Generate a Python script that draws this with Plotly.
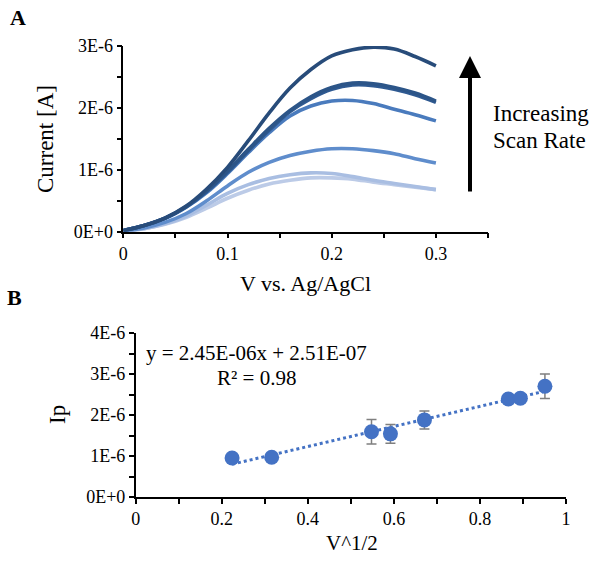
import plotly.graph_objects as go

# ---------- Panel A data (cyclic voltammetry curves, current in µA) ----------
v_pot = [0.00, 0.02, 0.04, 0.06, 0.08, 0.10, 0.12, 0.14, 0.16, 0.18, 0.20, 0.22, 0.24, 0.26, 0.28, 0.30]
cur_1 = [0.02, 0.10, 0.22, 0.41, 0.69, 1.04, 1.47, 1.92, 2.32, 2.62, 2.84, 2.94, 2.98, 2.95, 2.83, 2.68]
cur_2 = [0.02, 0.10, 0.22, 0.40, 0.66, 0.98, 1.33, 1.67, 1.96, 2.18, 2.33, 2.40, 2.39, 2.33, 2.24, 2.11]
cur_3 = [0.02, 0.10, 0.22, 0.40, 0.65, 0.96, 1.31, 1.64, 1.94, 2.15, 2.30, 2.37, 2.36, 2.30, 2.21, 2.09]
cur_4 = [0.02, 0.10, 0.21, 0.39, 0.63, 0.94, 1.28, 1.60, 1.87, 2.03, 2.11, 2.12, 2.07, 1.98, 1.89, 1.79]
cur_5 = [0.01, 0.06, 0.15, 0.29, 0.50, 0.74, 0.96, 1.12, 1.23, 1.30, 1.34, 1.34, 1.31, 1.26, 1.18, 1.11]
cur_6 = [0.01, 0.05, 0.13, 0.25, 0.43, 0.62, 0.76, 0.86, 0.92, 0.95, 0.94, 0.89, 0.83, 0.78, 0.73, 0.68]
cur_7 = [0.01, 0.05, 0.12, 0.23, 0.38, 0.54, 0.67, 0.77, 0.83, 0.87, 0.87, 0.85, 0.80, 0.76, 0.72, 0.68]
curves = [cur_7, cur_6, cur_5, cur_4, cur_3, cur_2, cur_1]
curve_colors = ["#bccbe7", "#a9bee2", "#5f8dcc", "#4a7bbd", "#2f5a92", "#2c5588", "#284c7a"]

# ---------- Panel B data (peak current vs sqrt scan rate, µA) ----------
sqrt_rate = [0.224, 0.316, 0.548, 0.592, 0.671, 0.866, 0.894, 0.951]
ip_mean = [0.95, 0.97, 1.59, 1.54, 1.88, 2.39, 2.41, 2.70]
ip_err = [0.04, 0.07, 0.30, 0.23, 0.22, 0.08, 0.10, 0.30]
fit_slope = 2.45
fit_intercept = 0.251

a_ytick_vals = [0, 1e-6, 2e-6, 3e-6]
a_ytick_text = ["0E+0", "1E-6", "2E-6", "3E-6"]
a_xtick_vals = [0, 0.1, 0.2, 0.3]
a_xtick_text = ["0", "0.1", "0.2", "0.3"]
b_ytick_vals = [0, 1e-6, 2e-6, 3e-6, 4e-6]
b_ytick_text = ["0E+0", "1E-6", "2E-6", "3E-6", "4E-6"]
b_xtick_vals = [0, 0.2, 0.4, 0.6, 0.8, 1.0]
b_xtick_text = ["0", "0.2", "0.4", "0.6", "0.8", "1"]

FONT = "Liberation Serif"
W, H = 601, 564

fig = go.Figure()

for c, col in zip(curves, curve_colors):
    fig.add_trace(go.Scatter(
        x=v_pot, y=[val * 1e-6 for val in c], mode="lines",
        line=dict(color=col, width=3.6, shape="spline", smoothing=1.0),
        xaxis="x", yaxis="y", showlegend=False, hoverinfo="skip"))

x_fit = [min(sqrt_rate), max(sqrt_rate)]
y_fit = [(fit_slope * xv + fit_intercept) * 1e-6 for xv in x_fit]
fig.add_trace(go.Scatter(
    x=x_fit, y=y_fit, mode="lines",
    line=dict(color="#4472c4", width=3, dash="dot"),
    xaxis="x2", yaxis="y2", showlegend=False))

fig.add_trace(go.Scatter(
    x=sqrt_rate, y=[v * 1e-6 for v in ip_mean], mode="markers",
    marker=dict(color="#4472c4", size=15),
    error_y=dict(type="data", array=[e * 1e-6 for e in ip_err],
                 color="#7f7f7f", thickness=1.5, width=5),
    xaxis="x2", yaxis="y2", showlegend=False))

def px_x(p):
    return p / W

def px_y(p):
    return 1 - p / H

axis_common = dict(showgrid=False, zeroline=False, showline=True, linecolor="black",
                   linewidth=1.5, ticks="outside", ticklen=5, tickwidth=1.5,
                   automargin=False,
                   tickcolor="black", tickfont=dict(family=FONT, size=18, color="black"))
minor_common = dict(ticks="outside", ticklen=5, tickwidth=1.5, tickcolor="black")

fig.update_layout(
    width=W, height=H,
    margin=dict(l=0, r=0, t=0, b=0, autoexpand=False),
    paper_bgcolor="white", plot_bgcolor="white",
    xaxis=dict(domain=[px_x(123.3), px_x(488)], anchor="y", range=[0, 0.35],
               tickvals=a_xtick_vals, ticktext=a_xtick_text,
               minor=dict(dtick=0.05, **minor_common), **axis_common),
    yaxis=dict(domain=[px_y(231.7), px_y(46)], anchor="x", range=[0, 3e-6],
               tickvals=a_ytick_vals, ticktext=a_ytick_text,
               minor=dict(dtick=0.5e-6, **minor_common), **axis_common),
    xaxis2=dict(domain=[px_x(135.7), px_x(566)], anchor="y2", range=[0, 1],
                tickvals=b_xtick_vals, ticktext=b_xtick_text,
                minor=dict(dtick=0.1, **minor_common), **axis_common),
    yaxis2=dict(domain=[px_y(497), px_y(333)], anchor="x2", range=[0, 4e-6],
                tickvals=b_ytick_vals, ticktext=b_ytick_text,
                minor=dict(dtick=0.5e-6, **minor_common), **axis_common),
)

def text(x, y, s, size=18, angle=0, bold=False, family=FONT, xanchor="center"):
    fig.add_annotation(x=px_x(x), y=px_y(y), xref="paper", yref="paper",
                       text=("<b>%s</b>" % s) if bold else s, showarrow=False,
                       textangle=angle, borderpad=0,
                       font=dict(family=family, size=size, color="black"),
                       xanchor=xanchor, yanchor="middle")

text(18, 17, "A", size=22, bold=True)
text(14, 297, "B", size=22, bold=True)
text(45, 139, "Current [A]", size=23, angle=-90)
text(305, 283, "V vs. Ag/AgCl", size=22)
text(57, 415, "Ip", size=23, angle=-90)
text(352, 543, "V^1/2", size=21)
text(256, 353, "y = 2.45E-06x + 2.51E-07", size=21)
text(256, 378, "R² = 0.98", size=21)
text(492, 113, "Increasing", size=23, xanchor="left")
text(492, 140, "Scan Rate", size=23, xanchor="left")

fig.add_annotation(x=px_x(470), y=px_y(56), ax=0, ay=193 - 56,
                   xref="paper", yref="paper", axref="pixel", ayref="pixel",
                   showarrow=True, arrowhead=2, arrowsize=1.1, arrowwidth=4,
                   arrowcolor="black", text="")

fig.write_html("out.html", config={"displayModeBar": False},
               post_script="document.body.style.margin='0px';")
